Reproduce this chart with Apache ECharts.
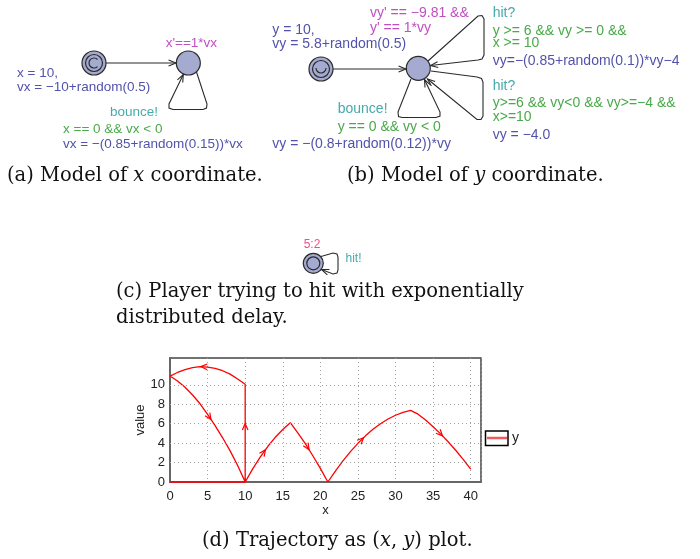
<!DOCTYPE html>
<html><head><meta charset="utf-8">
<script src="https://cdn.jsdelivr.net/npm/echarts@6/dist/echarts.min.js"></script>
<style>html,body{margin:0;padding:0;background:#fff}#c{width:700px;height:559px}</style>
</head><body><div id="c"></div>
<script>
// ---- data ----
const seriesName = 'y';
const xTickValues = [0, 5, 10, 15, 20, 25, 30, 35, 40];
const yTickValues = [0, 2, 4, 6, 8, 10];
const yGridValues = [2, 4, 6, 8, 10];
const pathX = [0, 10, 10, 9, 8, 7, 6, 5, 4, 3, 2, 1, 0,
  1, 2, 3, 4, 5, 6, 7, 8, 9, 10,
  11, 12, 13, 14, 15, 16,
  17, 18, 19, 20, 21,
  22, 23, 24, 25, 26, 27, 28, 29, 30, 31, 32, 32.25,
  33, 34, 35, 36, 37, 38, 39, 40];
const pathY = [0, 0, 10.05, 10.6, 11.1, 11.45, 11.7, 11.83, 11.87, 11.78, 11.57, 11.27, 10.9,
  10.4, 9.75, 8.95, 8.05, 6.95, 5.8, 4.55, 3.2, 1.7, 0,
  1.35, 2.55, 3.65, 4.6, 5.4, 6.1,
  5.05, 3.95, 2.7, 1.4, 0,
  1.13, 2.18, 3.13, 3.98, 4.75, 5.42, 5.99, 6.48, 6.87, 7.17, 7.37, 7.4,
  6.98, 6.37, 5.69, 4.95, 4.14, 3.27, 2.33, 1.33];
const arrowTailX = [4.6, 5.0, 10, 12.2, 18.0, 25.2, 35.75];
const arrowTailY = [11.86, 6.95, 5.0, 2.77, 3.95, 4.13, 5.15];
const arrowHeadX = [4.1, 5.45, 10, 12.7, 18.5, 25.75, 36.25];
const arrowHeadY = [11.87, 6.43, 6.0, 3.32, 3.33, 4.56, 4.75];

// ---- styles ----
const SANS = '"Liberation Sans", Arial, Helvetica, sans-serif';
const SERIF = '"DejaVu Serif", "Liberation Serif", serif';
const C_BLUE = '#5252ad', C_MAG = '#c04fc0', C_GREEN = '#4aa94a', C_TEAL = '#47aaaa',
      C_PINK = '#ee4f86', C_FILL = '#a4aad0', C_STROKE = '#2a2a2a';

function txt(x, y, s, color, size, align) {
  return {type: 'text', x: x, y: y, silent: true,
    style: {text: s, fill: color, fontFamily: SANS, fontSize: size || 13.5,
            align: align || 'left', verticalAlign: 'middle'}};
}
function circ(cx, cy, r, fill) {
  return {type: 'circle', silent: true, shape: {cx: cx, cy: cy, r: r},
    style: {fill: fill || null, stroke: C_STROKE, lineWidth: 1.2}};
}
function edge(points) {
  const n = points.length;
  const tip = points[n - 1], prev = points[n - 2];
  const a = Math.atan2(tip[1] - prev[1], tip[0] - prev[0]);
  const L = 8, w = 0.38;
  return [
    {type: 'polyline', silent: true, shape: {points: points},
      style: {stroke: C_STROKE, fill: null, lineWidth: 1.1}},
    {type: 'polyline', silent: true, shape: {points: [
      [tip[0] - L * Math.cos(a - w), tip[1] - L * Math.sin(a - w)], tip,
      [tip[0] - L * Math.cos(a + w), tip[1] - L * Math.sin(a + w)]]},
      style: {stroke: C_STROKE, fill: null, lineWidth: 1.1}}
  ];
}
const CAP = 19.5;
function caption(x, y, s) {
  return {type: 'text', x: x, y: y, silent: true,
    style: {text: s, fill: '#111', fontFamily: SERIF, fontSize: CAP, verticalAlign: 'middle',
      rich: {i: {fontFamily: SERIF, fontSize: CAP, fontStyle: 'italic', fill: '#111'}}}};
}

const els = [];
// (a) model of x
els.push(circ(94, 63, 12, C_FILL), circ(94, 63, 8.5, null),
  {type: 'arc', silent: true, shape: {cx: 94, cy: 63, r: 5, startAngle: 0.8, endAngle: 5.5},
    style: {stroke: C_STROKE, fill: null, lineWidth: 1.2}});
els.push(circ(188.3, 63, 12, C_FILL));
els.push(...edge([[106, 63], [176, 63]]));
els.push(...edge([[196.5, 72], [207, 104], [206.5, 108], [203, 109.5], [173, 109.5], [169, 108], [169, 104], [183.3, 74.5]]));
els.push(txt(165.7, 43, "x'==1*vx", C_MAG));
els.push(txt(17, 73, 'x = 10,', C_BLUE));
els.push(txt(17, 87, 'vx = \u221210+random(0.5)', C_BLUE));
els.push(txt(110, 112, 'bounce!', C_TEAL));
els.push(txt(63, 129, 'x == 0 && vx < 0', C_GREEN));
els.push(txt(63, 144, 'vx = \u2212(0.85+random(0.15))*vx', C_BLUE));

// (b) model of y
const B = 14;
els.push(circ(321, 69, 12, C_FILL), circ(321, 69, 8.5, null),
  {type: 'arc', silent: true, shape: {cx: 321, cy: 68, r: 5, startAngle: 0, endAngle: Math.PI},
    style: {stroke: C_STROKE, fill: null, lineWidth: 1.2}});
els.push(circ(418.3, 68.3, 12, C_FILL));
els.push(...edge([[333, 69], [406, 69]]));
els.push(...edge([[411, 79], [398, 112], [398.5, 116.5], [402, 117.5], [436, 117.5], [440, 116], [440, 112], [424.5, 79.5]]));
els.push(...edge([[428, 61], [478, 16], [482, 15.5], [484, 19], [484, 55], [482, 59], [478, 60], [430.5, 65.5]]));
els.push(...edge([[431, 71], [477, 77], [481.5, 78.5], [483, 82], [483, 116], [481, 119.5], [477, 119.5], [427.5, 79]]));
els.push(txt(272.3, 30, 'y = 10,', C_BLUE, B));
els.push(txt(272.3, 44, 'vy = 5.8+random(0.5)', C_BLUE, B));
els.push(txt(370, 13.3, "vy' == \u22129.81 &&", C_MAG, B));
els.push(txt(370, 28.3, "y' == 1*vy", C_MAG, B));
els.push(txt(337.7, 109.3, 'bounce!', C_TEAL, B));
els.push(txt(337.7, 126.7, 'y == 0 && vy < 0', C_GREEN, B));
els.push(txt(272.3, 144, 'vy = \u2212(0.8+random(0.12))*vy', C_BLUE, B));
els.push(txt(492.7, 12.7, 'hit?', C_TEAL, B));
els.push(txt(492.7, 30.7, 'y >= 6 && vy >= 0 &&', C_GREEN, B));
els.push(txt(492.7, 43.3, 'x >= 10', C_GREEN, B));
els.push(txt(492.7, 61, 'vy=\u2212(0.85+random(0.1))*vy\u22124', C_BLUE, B));
els.push(txt(492.7, 86, 'hit?', C_TEAL, B));
els.push(txt(492.7, 103.3, 'y>=6 && vy<0 && vy>=\u22124 &&', C_GREEN, B));
els.push(txt(492.7, 116.7, 'x>=10', C_GREEN, B));
els.push(txt(492.7, 135, 'vy = \u22124.0', C_BLUE, B));

// (c) player
els.push(circ(313.3, 263.3, 10, C_FILL), circ(313.3, 263.3, 6.5, null));
els.push(...edge([[321, 256.5], [333, 253], [337, 254], [338, 257], [338, 270], [337, 273], [333, 274], [321.5, 269.5]]));
els.push(txt(312, 245, '5:2', C_PINK, 12, 'center'));
els.push(txt(345.5, 259, 'hit!', C_TEAL, 12));

// captions
els.push(caption(7, 176, '(a) Model of {i|x} coordinate.'));
els.push(caption(347, 176, '(b) Model of {i|y} coordinate.'));
els.push(caption(116, 292, '(c) Player trying to hit with exponentially'));
els.push(caption(116, 318, 'distributed delay.'));
els.push(caption(202, 541, '(d) Trajectory as ({i|x}, {i|y}) plot.'));

// legend box
els.push({type: 'rect', silent: true, z: 100, shape: {x: 485.5, y: 431, width: 22.5, height: 14.5},
  style: {fill: null, stroke: '#000', lineWidth: 1.5}});

const gridStyle = {type: [1, 3], color: '#a0a0a0', width: 1};
const option = {
  animation: false,
  backgroundColor: '#fff',
  grid: {left: 170, top: 358, width: 311, height: 124, show: true,
    borderColor: '#444', borderWidth: 1.5, backgroundColor: 'transparent'},
  legend: {data: [seriesName], left: 487, top: 431, padding: 0, itemWidth: 20, itemHeight: 14,
    icon: 'path://M0,0h24v3h-24z', itemStyle: {color: '#f25c5c'},
    lineStyle: {color: '#f25c5c', width: 2.5},
    textStyle: {fontFamily: SANS, fontSize: 14, color: '#222'}},
  xAxis: {type: 'value', min: 0, max: 41.37, interval: 5,
    name: 'x', nameLocation: 'middle', nameGap: 22,
    nameTextStyle: {fontFamily: SANS, fontSize: 13, color: '#222'},
    axisLine: {show: true, onZero: false, lineStyle: {color: '#666', width: 2}},
    axisTick: {show: false},
    axisLabel: {fontFamily: SANS, fontSize: 13, color: '#222', margin: 8,
      formatter: v => xTickValues.some(t => Math.abs(t - v) < 1e-6) ? String(v) : ''},
    splitLine: {show: true, lineStyle: gridStyle}},
  yAxis: {type: 'value', min: 0, max: 12.76, interval: 2,
    name: 'value', nameLocation: 'middle', nameGap: 21, nameRotate: 90,
    nameTextStyle: {fontFamily: SANS, fontSize: 13, color: '#222'},
    axisLine: {show: true, onZero: false, lineStyle: {color: '#666', width: 2}},
    axisTick: {show: false},
    axisLabel: {fontFamily: SANS, fontSize: 13, color: '#222', margin: 5,
      formatter: v => yTickValues.some(t => Math.abs(t - v) < 1e-6) ? String(v) : ''},
    splitLine: {show: false}},
  graphic: {elements: els},
  series: [
    {type: 'line', name: 'grid', data: [], z: 1, silent: true,
      markLine: {silent: true, symbol: 'none', label: {show: false},
        lineStyle: gridStyle, emphasis: {disabled: true},
        data: yGridValues.map(v => ({yAxis: v}))}},
    {type: 'line', name: seriesName, data: pathX.map((x, i) => [x, pathY[i]]),
      showSymbol: false, symbol: 'none', clip: false, z: 3,
      lineStyle: {color: '#ff0000', width: 1.3}, itemStyle: {color: '#f25c5c'}},
    {type: 'custom', name: seriesName, coordinateSystem: 'cartesian2d', z: 3, silent: true,
      data: arrowHeadX.map((x, i) => [arrowTailX[i], arrowTailY[i], x, arrowHeadY[i]]),
      encode: {x: [0, 2], y: [1, 3]},
      renderItem: function (params, api) {
        const t = api.coord([api.value(0), api.value(1)]);
        const h = api.coord([api.value(2), api.value(3)]);
        const a = Math.atan2(h[1] - t[1], h[0] - t[0]);
        const L = 7, w = 0.42;
        return {type: 'polyline', shape: {points: [
          [h[0] - L * Math.cos(a - w), h[1] - L * Math.sin(a - w)], h,
          [h[0] - L * Math.cos(a + w), h[1] - L * Math.sin(a + w)]]},
          style: {stroke: '#ff0000', fill: null, lineWidth: 1.2}};
      }}
  ]
};
const chart = echarts.init(document.getElementById('c'), null, {renderer: 'canvas'});
chart.setOption(option);
</script></body></html>
